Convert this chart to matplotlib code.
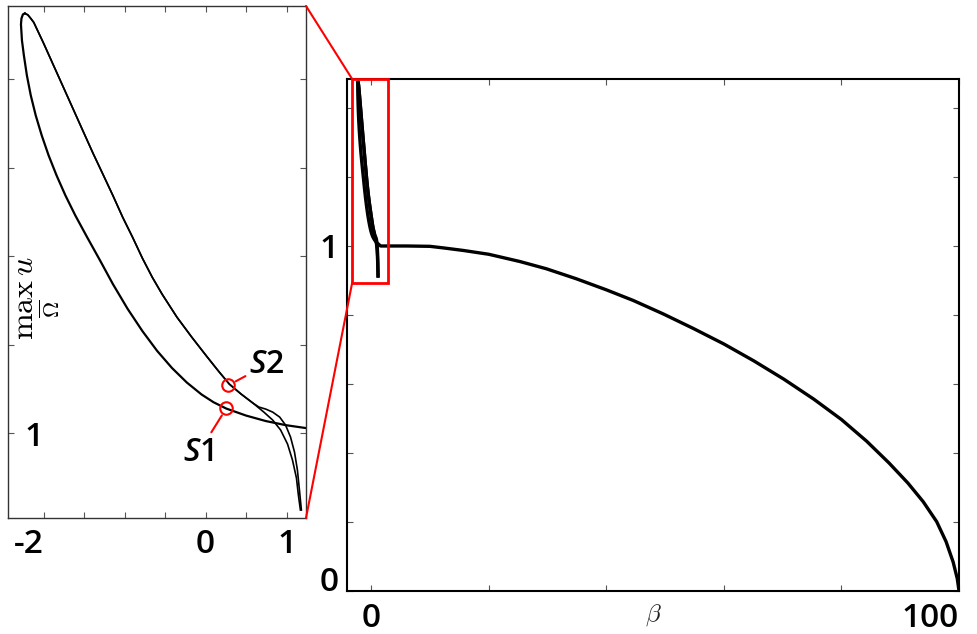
import numpy as np
import matplotlib
matplotlib.use("Agg")
import matplotlib.pyplot as plt
from matplotlib.patches import Rectangle, ConnectionPatch

plt.rcParams['font.family'] = ['Open Sans', 'DejaVu Sans']
plt.rcParams['font.weight'] = 'semibold'
plt.rcParams['mathtext.fontset'] = 'custom'
plt.rcParams['mathtext.it'] = 'Open Sans:italic:semibold'
plt.rcParams['mathtext.rm'] = 'Open Sans:semibold'

# petla przy beta ~ 0 (widoczna w powiekszeniu)
lower_b = [-2.232, -2.256, -2.274, -2.280, -2.274, -2.268, -2.244, -2.207, -2.159,
           -2.098, -2.024, -1.939, -1.841, -1.732, -1.610, -1.463, -1.305, -1.146,
           -0.963, -0.780, -0.598, -0.415, -0.232, -0.049, 0.098, 0.256, 0.500,
           0.744, 0.988, 1.244]
lower_v = [1.4746, 1.4734, 1.4689, 1.4621, 1.4531, 1.4441, 1.4271, 1.4045, 1.3819,
           1.3593, 1.3367, 1.3141, 1.2915, 1.2689, 1.2463, 1.2215, 1.1955, 1.1687,
           1.1405, 1.1153, 1.0929, 1.0736, 1.0572, 1.0436, 1.0349, 1.0277, 1.0198,
           1.0136, 1.0090, 1.0056]

upper_b = [-2.232, -2.195, -2.159, -2.122, -2.0, -1.878, -1.756, -1.634, -1.512,
           -1.390, -1.268, -1.146, -1.024, -0.902, -0.780, -0.659, -0.537, -0.354,
           -0.171, 0.012, 0.159, 0.293, 0.439, 0.585]
upper_v = [1.4746, 1.4729, 1.4689, 1.4644, 1.4407, 1.4158, 1.3910, 1.3661, 1.3412,
           1.3164, 1.2927, 1.2689, 1.2441, 1.2215, 1.1977, 1.1763, 1.1571, 1.1311,
           1.1085, 1.0870, 1.0701, 1.0554, 1.0441, 1.0339]
inner_b = [0.720, 0.829, 0.927, 1.012, 1.073, 1.122, 1.146, 1.171]
inner_v = [1.0237, 1.0147, 1.0034, 0.9876, 0.9695, 0.9492, 0.9299, 0.9130]
outer_b = [0.659, 0.744, 0.829, 0.915, 0.988, 1.049, 1.098, 1.134, 1.159, 1.183]
outer_v = [1.0294, 1.0271, 1.0237, 1.0181, 1.0090, 0.9955, 0.9785, 0.9582, 0.9356, 0.9130]

# glowna galaz
main_b = [1.6, 6, 10, 12.5, 15.7, 20, 25.3, 29.8, 34.9, 40, 44.6, 49.7, 54.8, 60,
          65.1, 70.2, 75.3, 80, 84.3, 88.1, 91.3, 93.9, 96.2, 97.8, 99.0, 99.7, 100]
main_v = [1.0, 1.0, 0.999, 0.994, 0.987, 0.976, 0.955, 0.934, 0.905, 0.873, 0.842,
          0.803, 0.761, 0.716, 0.667, 0.614, 0.556, 0.497, 0.434, 0.371, 0.313,
          0.259, 0.201, 0.143, 0.084, 0.036, 0.0]

# punkty S1, S2
s_names = ['S1', 'S2']
s_b = [0.256, 0.280]
s_v = [1.028, 1.054]

fig = plt.figure(figsize=(9.77, 6.34), dpi=100)
ax = fig.add_axes([0.3552, 0.0678, 0.6264, 0.8076])
axi = fig.add_axes([0.0082, 0.183, 0.305, 0.8076])

# --- glowny wykres
ax.plot(lower_b + main_b, lower_v + main_v, 'k', lw=2.4)
ax.plot(upper_b + inner_b, upper_v + inner_v, 'k', lw=2.4)
ax.plot(upper_b + outer_b, upper_v + outer_v, 'k', lw=2.4)
ax.set_xlim(-4.1, 100)
ax.set_ylim(0, 1.484)
ax.set_xticks(np.arange(0, 101, 20))
ax.set_xticklabels(['0', '', '', '', '', '100'])
ax.set_yticks(np.arange(0, 1.41, 0.2))
ax.set_yticklabels(['0', '', '', '', '', '1', '', ''])
ax.get_xticklabels()[-1].set_ha('right')
ax.get_yticklabels()[0].set_va('baseline')
ax.tick_params(direction='in', top=True, right=True, length=4, width=0.8,
               color='#555', labelsize=24)
ax.tick_params(axis='x', pad=8)
ax.tick_params(axis='y', pad=6)
for s in ax.spines.values():
    s.set_linewidth(1.5)
ax.set_xlabel(r'$\beta$', fontsize=18, color='#222', math_fontfamily='cm',
              labelpad=-24)

# czerwona ramka + linie do powiekszenia
rb, rv, rw, rh = -3.23, 0.893, 6.13, 0.591
ax.add_patch(Rectangle((rb, rv), rw, rh, fill=False, ec='red', lw=2,
                       clip_on=False, zorder=5))

# --- powiekszenie
axi.plot(lower_b, lower_v, 'k', lw=1.6)
axi.plot(upper_b + inner_b, upper_v + inner_v, 'k', lw=1.2)
axi.plot(upper_b + outer_b, upper_v + outer_v, 'k', lw=1.2)
axi.plot(s_b, s_v, 'o', ms=9, mfc='none', mec='red', mew=1.5)
axi.set_xlim(-2.44, 1.24)
axi.set_ylim(0.904, 1.483)
axi.set_xticks(np.arange(-2, 1.01, 0.5))
axi.set_xticklabels(['-2', '', '', '', '0', '', '1'])
axi.get_xticklabels()[0].set_ha('right')
axi.set_yticks([1.0, 1.1, 1.2, 1.3, 1.4])
axi.set_yticklabels(['1', '', '', '', ''])
axi.tick_params(direction='in', top=True, right=True, length=4, width=0.8,
                color='#555', labelsize=24)
axi.tick_params(axis='x', pad=7)
axi.tick_params(axis='y', pad=-26)
for s in axi.spines.values():
    s.set_linewidth(1.0)
    s.set_color('#333')
axi.text(0.105, 0.43, r'$\max_{\overline{\Omega}}\, u$', transform=axi.transAxes,
         rotation=90, ha='center', va='center', fontsize=23, math_fontfamily='cm')

offsets = {'S1': (-20, -32), 'S2': (28, 15)}
for name, b, v in zip(s_names, s_b, s_v):
    axi.annotate(r'$S$' + name[1], xy=(b, v), xytext=offsets[name],
                 textcoords='offset points', ha='center', va='center',
                 fontsize=23, math_fontfamily='custom',
                 arrowprops=dict(arrowstyle='-', color='red', lw=1.5,
                                 shrinkA=1, shrinkB=6))

for xa, ya in [((1, 1), (rb, rv + rh)), ((1, 0), (rb, rv))]:
    con = ConnectionPatch(xyA=xa, coordsA=axi.transAxes, xyB=ya,
                          coordsB=ax.transData, color='red', lw=1.5)
    fig.add_artist(con)

fig.savefig('out.png', dpi=100)
